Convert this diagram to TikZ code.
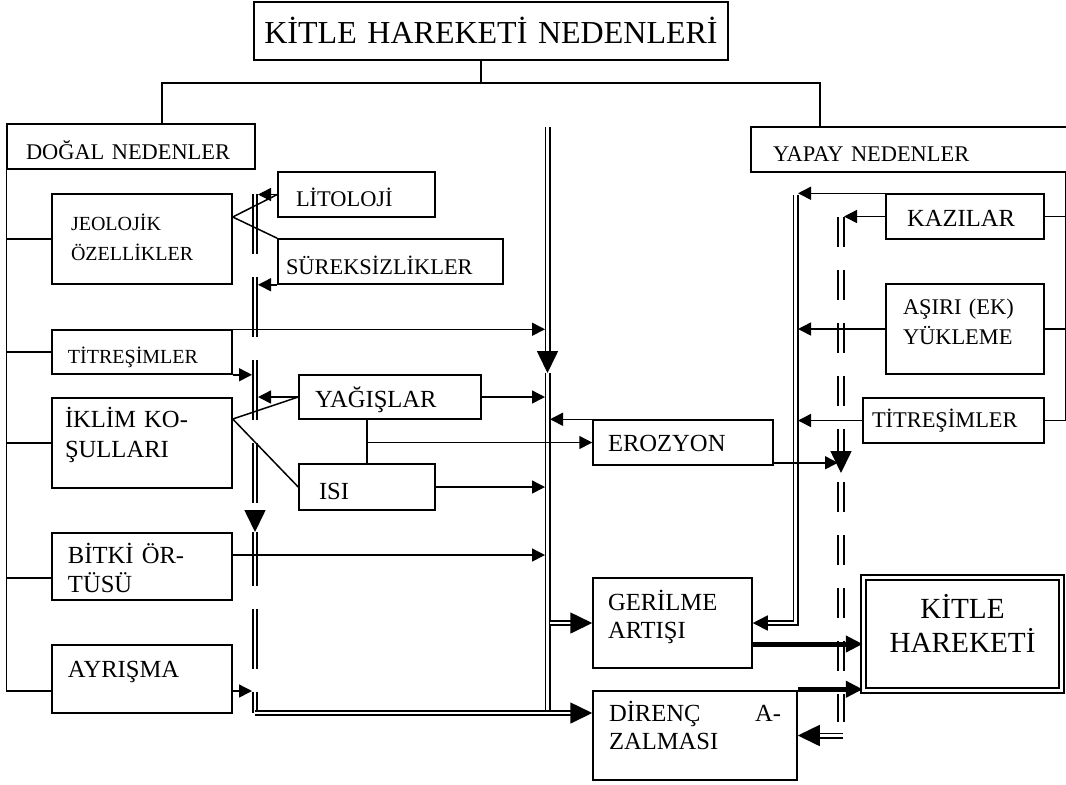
\documentclass[tikz,border=0pt]{standalone}
\usepackage{fontspec}
\setmainfont{Liberation Serif}
\usetikzlibrary{arrows.meta}

\begin{document}
\begin{tikzpicture}[
    x=0.5pt, y=-0.5pt, line width=0.75pt,
    box/.style={draw, inner sep=0pt, align=left},
    fs/.style={font=\fontsize{10}{15}\selectfont},
    fm/.style={font=\fontsize{11.2}{15}\selectfont},
    fl/.style={font=\fontsize{12.3}{14.5}\selectfont},
    arr/.style={-{Triangle[length=6.5pt,width=6.5pt]}},
    bigarr/.style={-{Triangle[length=11pt,width=10.5pt]}},
    midarr/.style={-{Triangle[length=7.5pt,width=7.5pt]}},
    thk/.style={line width=2.5pt, -{Triangle[length=8.5pt,width=8pt]}},
    dbl/.style={double, line width=0.8pt, double distance=1.4pt},
    dblwide/.style={double, line width=0.8pt, double distance=2.2pt},
    dashA/.style={dash pattern=on 30pt off 11.5pt},
    dashC/.style={dash pattern=on 15pt off 11.5pt}
]
    \useasboundingbox (0,0) rectangle (1066,784);

    % boxes
    \node[box, font=\fontsize{16}{19}\selectfont, align=center, text width=230pt, minimum width=237pt, minimum height=29pt, text height=12.6pt, text depth=0pt] (T) at (491,31) {KİTLE HAREKETİ NEDENLERİ};

    \node[box, fm, minimum width=124pt, minimum height=22.5pt, text width=105pt, text height=13.4pt, text depth=0pt] (dogal) at (131,146.5) {DOĞAL NEDENLER};
    \node[box, fs, minimum width=90pt, minimum height=45pt, text width=71pt, text height=8pt, text depth=16.4pt] (jeo) at (142,239) {JEOLOJİK\\ÖZELLİKLER};
    \node[box, fm, minimum width=78.5pt, minimum height=22.5pt, text width=60.5pt, text height=12.4pt, text depth=0pt] (lit) at (356.5,194.5) {LİTOLOJİ};
    \node[box, fm, minimum width=112.5pt, minimum height=22.5pt, text width=104.5pt, text height=13.4pt, text depth=0pt] (sur) at (390.5,261.5) {SÜREKSİZLİKLER};
    \node[box, fs, minimum width=90pt, minimum height=22pt, text width=74pt, text height=11pt, text depth=0pt] (tit1) at (142,352) {TİTREŞİMLER};
    \node[box, font=\fontsize{12.3}{15}\selectfont, minimum width=90pt, minimum height=45pt, text width=77pt, text height=8pt, text depth=23.9pt] (ikl) at (142,443) {İKLİM KO-\\ŞULLARI};
    \node[box, fl, minimum width=91pt, minimum height=22pt, text width=75pt, text height=10.5pt, text depth=0pt] (yag) at (390,397) {YAĞIŞLAR};
    \node[box, fl, minimum width=68pt, minimum height=23pt, text width=48pt, text height=12.1pt, text depth=0pt] (isi) at (367,487) {ISI};
    \node[box, fl, minimum width=90pt, minimum height=22.5pt, text width=75pt, text height=9.1pt, text depth=0pt] (ero) at (683,442.5) {EROZYON};
    \node[box, fl, minimum width=90pt, minimum height=33.5pt, text width=74pt, text height=8pt, text depth=11.4pt] (bit) at (142,566.5) {BİTKİ ÖR-\\TÜSÜ};
    \node[box, fl, minimum width=90pt, minimum height=34pt, text width=74pt, text height=8pt, text depth=9.9pt] (ayr) at (142,679) {AYRIŞMA};
    \node[box, font=\fontsize{12.3}{14}\selectfont, minimum width=79.5pt, minimum height=45pt, text width=64.5pt, text height=9pt, text depth=21.9pt] (ger) at (672.5,623) {GERİLME\\ARTIŞI};
    \node[box, font=\fontsize{12.3}{14}\selectfont, minimum width=102pt, minimum height=44.5pt, text width=86pt, text height=9pt, text depth=22.9pt] (dir) at (695,735.5) {DİRENÇ \hfill A-\\ZALMASI};

    \node[box, fm, minimum width=160.5pt, minimum height=22.5pt, text width=138.5pt, text height=12.4pt, text depth=0pt] (yap) at (911.5,149.5) {YAPAY NEDENLER};
    \node[box, fl, minimum width=79pt, minimum height=22.5pt, text width=58pt, text height=10.1pt, text depth=0pt] (kaz) at (965,216.5) {KAZILAR};
    \node[box, fm, minimum width=79pt, minimum height=45pt, text width=62pt, text height=9pt, text depth=23.1pt] (asi) at (965,329) {AŞIRI (EK)\\YÜKLEME};
    \node[box, fm, minimum width=90.5pt, minimum height=22.5pt, text width=81.5pt, text height=7.4pt, text depth=0pt] (tit2) at (953.5,420.5) {TİTREŞİMLER};
    \node[draw, double, line width=0.75pt, double distance=1.75pt, inner sep=0pt, align=center, text width=92pt, font=\fontsize{14.6}{17}\selectfont, minimum width=99pt, minimum height=56.5pt, text height=10pt, text depth=25.3pt] (kit) at (962.5,634) {KİTLE\\HAREKETİ};

    % tree
    \coordinate (hub) at (481,83);
    \coordinate (hubL) at (162,83);
    \coordinate (hubR) at (820,83);
    \draw (T.south -| hub) -- (hub);
    \draw (dogal.north -| hubL) -- (hubL) -- (hubR) -- (hubR |- yap.north);

    \draw (dogal.south west) |- ([yshift=-6pt]ayr.west);
    \draw (jeo.west) -- (jeo.west -| dogal.south west);
    \draw (tit1.west) -- (tit1.west -| dogal.south west);
    \draw (ikl.west) -- (ikl.west -| dogal.south west);
    \draw ([yshift=-5.75pt]bit.west) -- ([yshift=-5.75pt]bit.west -| dogal.south west);

    \coordinate (rsp) at (1065.5,172);
    \draw (rsp) |- (tit2.east);
    \draw (kaz.east) -- (kaz.east -| rsp);
    \draw (asi.east) -- (asi.east -| rsp);

    % columns
    \coordinate (Atop) at (255,194);
    \coordinate (Aarr) at (255,532);
    \coordinate (Abot) at (255,713);
    \coordinate (Btop) at (547.5,127);
    \coordinate (Barr) at (547.5,373);
    \coordinate (Bbot) at (547.5,713);
    \coordinate (Ctop) at (841,217);
    \coordinate (Carr) at (841,473);
    \coordinate (Cnext) at (841,482);
    \coordinate (Cbot) at (841,722);
    \coordinate (Cout) at (843,735.5);
    \coordinate (Dtop) at (795.5,195);
    \coordinate (AL) at (252,0);
    \coordinate (AR) at (258,0);
    \coordinate (BL) at (545,0);
    \coordinate (BR) at (550,0);
    \coordinate (CL) at (838,0);
    \coordinate (CR) at (844,0);
    \coordinate (DR) at (798,0);

    \draw[dbl, dashA, bigarr] (Atop) -- (Aarr);
    \draw[dbl, dashA, dash phase=3pt] (Aarr) -- (Abot);
    \draw[dbl, bigarr] (Btop) -- (Barr);
    \draw[dbl] (Barr) -- (Bbot);
    \draw[dblwide, dashC, bigarr] (Ctop) -- (Carr);
    \draw[dblwide, dashC] (Cnext) -- (Cbot);
    \draw[dbl, midarr] (Dtop) |- (ger.east);

    \draw[dbl, bigarr] (Abot) -- ([yshift=11.25pt]dir.west);
    \draw[dbl, bigarr] (ger.west -| BR) -- (ger.west);
    \draw[dbl, bigarr] (Cout) -- (dir.east);

    % inputs
    \coordinate (jx) at ([yshift=11pt]jeo.east);
    \draw (lit.west) -- (jx) -- (sur.north west);
    \draw[arr] (lit.west) -- (lit.west -| AR);
    \draw[arr] (sur.south west) -- (sur.south west -| AR);

    \draw[arr] (tit1.north east) -- (tit1.north east -| BL);
    \draw[arr] (tit1.south east) -- (tit1.south east -| AL);

    \coordinate (ix) at ([yshift=12pt]ikl.east);
    \draw (yag.west) -- (ix) -- (isi.west);
    \draw[arr] (yag.west) -- (yag.west -| AR);
    \draw[arr] (yag.east) -- (yag.east -| BL);
    \draw[arr] (isi.east) -- (isi.east -| BL);
    \draw (isi.north) -- (isi.north |- yag.south);
    \draw[arr] (isi.north |- ero.west) -- (ero.west);
    \draw[arr] (ero.north west) -- (ero.north west -| BR);
    \draw[arr] ([yshift=1.5pt]ero.south east) -- ([yshift=1.5pt]ero.south east -| CL);

    \draw[arr] ([yshift=5.75pt]bit.east) -- ([yshift=5.75pt]bit.east -| BL);
    \draw[arr] ([yshift=-6pt]ayr.east) -- ([yshift=-6pt]ayr.east -| AL);

    \draw[arr] (kaz.west) -- (kaz.west -| CR);
    \draw[arr] (kaz.north west) -- (kaz.north west -| DR);
    \draw[arr] (asi.west) -- (asi.west -| DR);
    \draw[arr] (tit2.west) -- (tit2.west -| DR);

    \draw[thk] ([yshift=-10.5pt]ger.east) -- ([yshift=-10.5pt]ger.east -| kit.west);
    \draw[thk] ([yshift=0.5pt]dir.north east) -- ([yshift=0.5pt]dir.north east -| kit.west);
\end{tikzpicture}
\end{document}
